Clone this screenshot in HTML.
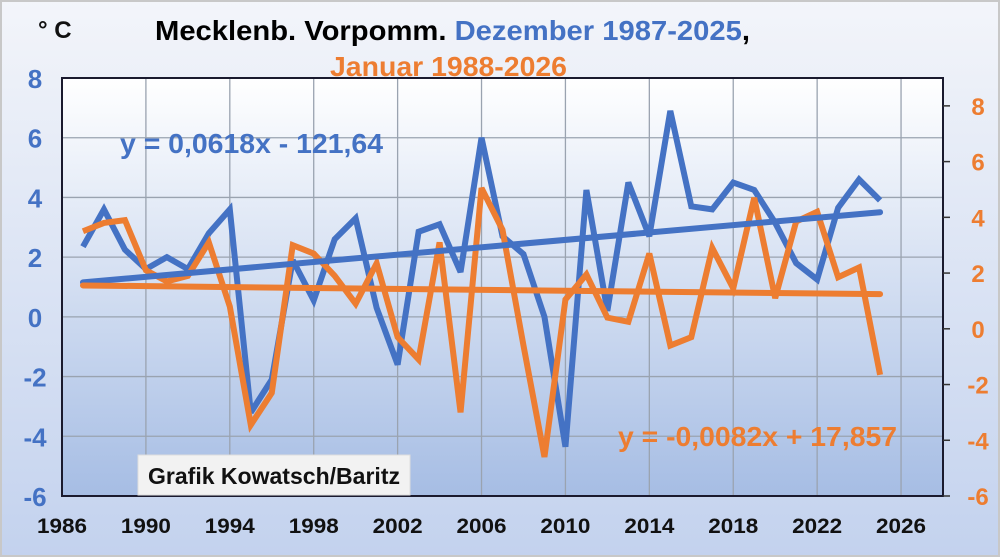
<!DOCTYPE html>
<html><head><meta charset="utf-8"><style>
html,body{margin:0;padding:0;}
body{width:1000px;height:557px;overflow:hidden;font-family:"Liberation Sans",sans-serif;}
</style></head><body>
<svg id="chart" width="1000" height="557" xmlns="http://www.w3.org/2000/svg" style="display:block">
<defs>
<linearGradient id="bg" x1="0" y1="0" x2="0" y2="1"><stop offset="0" stop-color="#f3f5fa"/><stop offset="1" stop-color="#c3d2ee"/></linearGradient>
<linearGradient id="pg" x1="0" y1="0" x2="0" y2="1"><stop offset="0" stop-color="#ffffff"/><stop offset="1" stop-color="#a6bde4"/></linearGradient>
</defs>
<rect x="0" y="0" width="1000" height="557" fill="url(#bg)"/>
<rect x="1" y="1" width="998" height="555" fill="none" stroke="#c8c8c8" stroke-width="2"/>
<rect x="62" y="78" width="881" height="418" fill="url(#pg)"/>
<g id="grid"></g>
<g id="marks"></g>
<rect x="62" y="78" width="881" height="418" fill="none" stroke="#1a1a2e" stroke-width="2"/>
<g id="axes" font-weight="bold"></g>
<text x="38" y="38" font-size="24" font-weight="bold" fill="#111">° C</text>
<text x="155" y="40" font-size="28" font-weight="bold" textLength="595" lengthAdjust="spacingAndGlyphs"><tspan fill="#000">Mecklenb. Vorpomm. </tspan><tspan fill="#4472c4">Dezember 1987-2025</tspan><tspan fill="#000">,</tspan></text>
<text x="330" y="76" font-size="28" font-weight="bold" fill="#ed7d31" textLength="237" lengthAdjust="spacingAndGlyphs">Januar 1988-2026</text>
<text x="120" y="153" font-size="28" font-weight="bold" fill="#4472c4" textLength="263" lengthAdjust="spacingAndGlyphs">y = 0,0618x - 121,64</text>
<text x="618" y="446" font-size="28" font-weight="bold" fill="#ed7d31" textLength="279" lengthAdjust="spacingAndGlyphs">y = -0,0082x + 17,857</text>
<rect x="138" y="455" width="272" height="40" fill="#f2f2f2" stroke="#dddddd"/>
<text x="148" y="484" font-size="23" font-weight="bold" fill="#111" textLength="252" lengthAdjust="spacingAndGlyphs">Grafik Kowatsch/Baritz</text>
</svg>
<script>
const decYears=[1987,1988,1989,1990,1991,1992,1993,1994,1995,1996,1997,1998,1999,2000,2001,2002,2003,2004,2005,2006,2007,2008,2009,2010,2011,2012,2013,2014,2015,2016,2017,2018,2019,2020,2021,2022,2023,2024,2025];
const decTemps=[2.35,3.6,2.25,1.6,2.0,1.6,2.8,3.6,-3.2,-2.1,1.9,0.55,2.6,3.3,0.3,-1.6,2.85,3.1,1.5,6.0,2.7,2.1,0.0,-4.35,4.25,0.2,4.5,2.7,6.9,3.7,3.6,4.5,4.25,3.15,1.8,1.25,3.65,4.6,3.9];
const janYears=[1988,1989,1990,1991,1992,1993,1994,1995,1996,1997,1998,1999,2000,2001,2002,2003,2004,2005,2006,2007,2008,2009,2010,2011,2012,2013,2014,2015,2016,2017,2018,2019,2020,2021,2022,2023,2024,2025,2026];
const janTemps=[3.5,3.8,3.9,2.1,1.7,1.9,3.1,0.8,-3.45,-2.3,3.0,2.7,1.9,0.9,2.35,-0.3,-1.1,3.1,-3.0,5.05,3.55,-0.6,-4.6,1.05,1.95,0.4,0.25,2.7,-0.6,-0.3,2.9,1.45,4.7,1.1,3.85,4.2,1.85,2.2,-1.65];
const xTicks=[1986,1990,1994,1998,2002,2006,2010,2014,2018,2022,2026];
const leftTicks=[8,6,4,2,0,-2,-4,-6];
const rightTicks=[8,6,4,2,0,-2,-4,-6];
const decTrend=[0.0618,-121.64];
const janTrend=[-0.0082,17.857];

const NS='http://www.w3.org/2000/svg';
const X0=62,X1=943,PT=78,PB=496;
const xs=y=>X0+(y-1986)*(X1-X0)/42;
const yl=v=>PB-(v+6)*(PB-PT)/14;
const yr=v=>PB-(v+6)*(PB-PT)/15;
function mk(tag,attrs,parent){const e=document.createElementNS(NS,tag);for(const k in attrs)e.setAttribute(k,attrs[k]);parent.appendChild(e);return e;}
const grid=document.getElementById('grid'),marks=document.getElementById('marks'),axes=document.getElementById('axes');
leftTicks.forEach(v=>{const l=mk('line',{x1:X0,x2:X1,y1:yl(v),y2:yl(v),stroke:'#9aa3b0','stroke-width':1.3},grid);


const t=mk('text',{x:35,y:yl(v)+10,'font-size':26,fill:'#4472c4','text-anchor':'middle'},axes);t.textContent=v;

});
rightTicks.forEach(v=>{const tk=mk('line',{x1:X1,x2:X1+7,y1:yr(v),y2:yr(v),stroke:'#333','stroke-width':1.5},axes);


const t=mk('text',{x:978,y:yr(v)+9,'font-size':24,fill:'#ed7d31','text-anchor':'middle'},axes);t.textContent=v;

});
xTicks.forEach(y=>{if(y>1986){const l=mk('line',{x1:xs(y),x2:xs(y),y1:PT,y2:PB,stroke:'#9aa3b0','stroke-width':1.3},grid);

}
const t=mk('text',{x:xs(y),y:533,'font-size':21,fill:'#111','text-anchor':'middle',textLength:50,lengthAdjust:'spacingAndGlyphs'},axes);t.textContent=y;

});
function series(years,vals,yf,color,name){
 const p=mk('polyline',{points:vals.map((v,i)=>xs(years[i]-(name==='jan'?1:0))+','+yf(v)).join(' '),fill:'none',stroke:color,'stroke-width':6,'stroke-linejoin':'miter','stroke-miterlimit':3},marks);
 
 
}
function trend(years,coef,yf,color,name){
 const off=name==='jan'?1:0;const a=years[0],b=years[years.length-1];
 const l=mk('line',{x1:xs(a-off),y1:yf(coef[0]*a+coef[1]),x2:xs(b-off),y2:yf(coef[0]*b+coef[1]),stroke:color,'stroke-width':6,'stroke-linecap':'round'},marks);
 
 
}
series(decYears,decTemps,yl,'#4472c4','dec');
series(janYears,janTemps,yr,'#ed7d31','jan');
trend(decYears,decTrend,yl,'#4472c4','dec');
trend(janYears,janTrend,yr,'#ed7d31','jan');
</script>
</body></html>
